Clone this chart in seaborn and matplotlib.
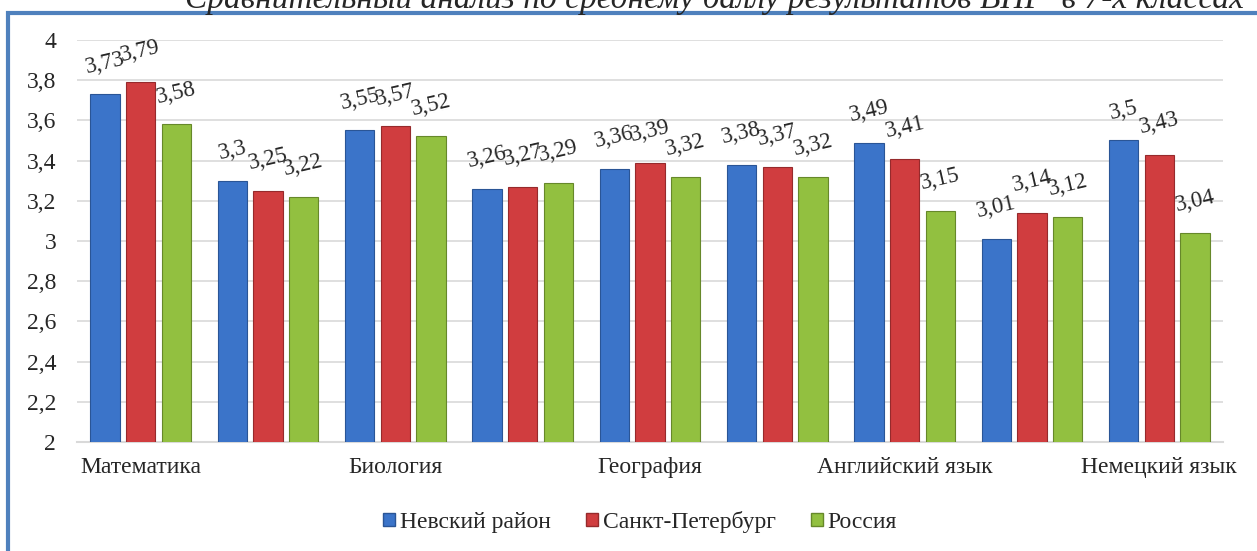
import pandas as pd
import matplotlib.pyplot as plt
import seaborn as sns
from matplotlib.patches import Rectangle

# data
subjects = ['Математика', 'Предмет 2', 'Биология', 'Предмет 4', 'География',
            'Предмет 6', 'Английский язык', 'Предмет 8', 'Немецкий язык']
tick_labels = ['Математика', '', 'Биология', '', 'География',
               '', 'Английский язык', '', 'Немецкий язык']
nevsky = [3.73, 3.30, 3.55, 3.26, 3.36, 3.38, 3.49, 3.01, 3.50]
spb = [3.79, 3.25, 3.57, 3.27, 3.39, 3.37, 3.41, 3.14, 3.43]
russia = [3.58, 3.22, 3.52, 3.29, 3.32, 3.32, 3.15, 3.12, 3.04]
series = ['Невский район', 'Санкт-Петербург', 'Россия']
title = 'Сравнительный анализ по среднему баллу результатов ВПР  в 7-х классах'

rows = []
for name, vals in zip(series, [nevsky, spb, russia]):
    for s, v in zip(subjects, vals):
        rows.append({'subject': s, 'series': name, 'value': v})
df = pd.DataFrame(rows)

sns.set_theme(style='white')
plt.rcParams['font.family'] = ['Liberation Serif', 'DejaVu Serif']

colors = ['#3B74C9', '#D03D3F', '#92C040']
edges = ['#2A5596', '#962A2C', '#66882A']

fig = plt.figure(figsize=(12.57, 5.51), dpi=100)
ax = fig.add_axes([77 / 1257, 1 - 442 / 551, (1223 - 77) / 1257, (442 - 40) / 551])

sns.barplot(data=df, x='subject', y='value', hue='series', palette=colors,
            saturation=1, width=0.84, gap=0.17, ax=ax, legend=False, zorder=3)

for cont, ec in zip(ax.containers, edges):
    for bar in cont:
        bar.set_edgecolor(ec)
        bar.set_linewidth(0.8)
        v = bar.get_height()
        ax.annotate(f'{v:g}'.replace('.', ','),
                    (bar.get_x() + bar.get_width() / 2, v),
                    xytext=(0, 12), textcoords='offset points',
                    ha='center', va='bottom', rotation=13, fontsize=16.5)

ax.set_ylim(2, 4)
ax.set_yticks([2, 2.2, 2.4, 2.6, 2.8, 3, 3.2, 3.4, 3.6, 3.8, 4])
ax.set_yticklabels(['2', '2,2', '2,4', '2,6', '2,8', '3', '3,2', '3,4', '3,6', '3,8', '4'],
                   fontsize=17)
ax.set_xticks(range(len(subjects)))
ax.set_xticklabels(tick_labels, fontsize=17)
ax.set_xlim(-0.5, len(subjects) - 0.5)
ax.set_xlabel('')
ax.set_ylabel('')
ax.yaxis.grid(True, color='#D9D9D9', linewidth=1.2, zorder=0)
ax.tick_params(axis='y', length=0, pad=15)
ax.tick_params(axis='x', length=0, pad=11)
for side in ['left', 'right', 'top']:
    ax.spines[side].set_visible(False)
ax.spines['bottom'].set_color('#D9D9D9')
ax.spines['bottom'].set_linewidth(1.5)

# legend
handles = [Rectangle((0, 0), 1, 1, facecolor=c, edgecolor=e) for c, e in zip(colors, edges)]
fig.legend(handles, series, loc='center', bbox_to_anchor=(640 / 1257, 1 - 522 / 551),
           ncol=3, frameon=False, fontsize=17, handlelength=0.5, handleheight=0.5,
           handletextpad=0.2, columnspacing=1.5)

# blue frame
fig.add_artist(Rectangle((8 / 1257, -0.1), 1.2, 1.1 - 13 / 551, transform=fig.transFigure,
                         fill=False, edgecolor='#4F81BD', linewidth=3))

# title (partly cut off at top)
fig.text(185 / 1257, 1 - 8 / 551, title, ha='left', va='baseline',
         fontsize=24, style='italic')

plt.savefig('out.png', dpi=100)
